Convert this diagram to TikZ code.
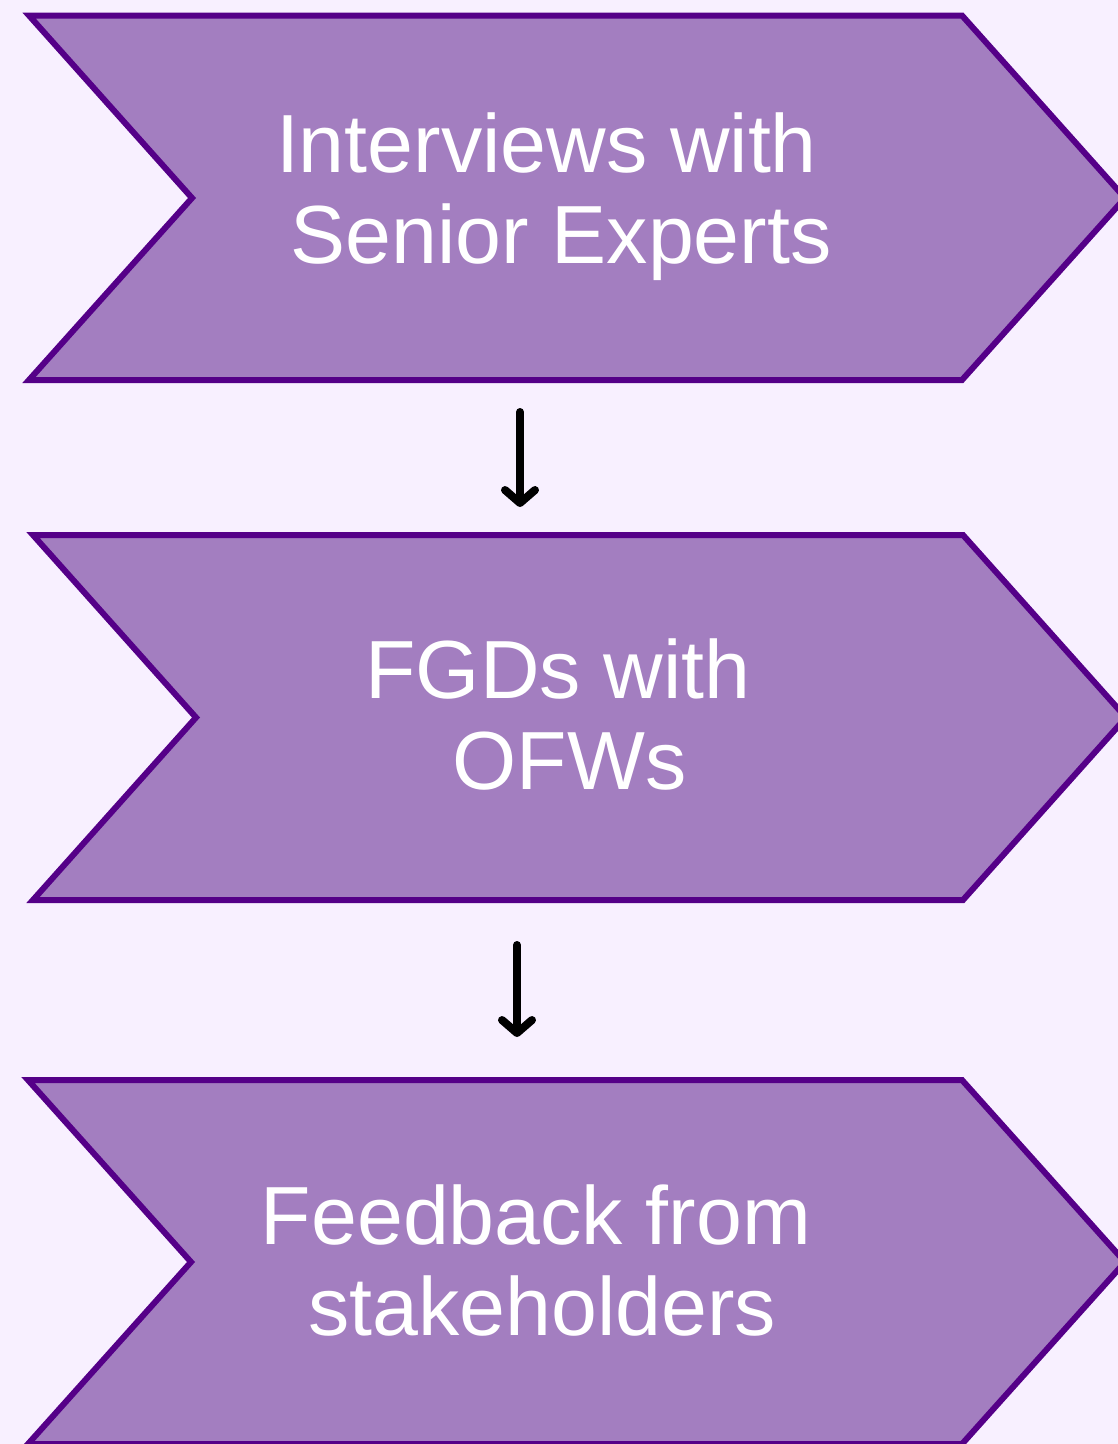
\documentclass[tikz,border=0pt]{standalone}
\usepackage{fontspec}
\setmainfont{Liberation Sans}
\usetikzlibrary{arrows.meta}

\definecolor{bgpale}{RGB}{248,240,255}
\definecolor{chevfill}{RGB}{163,126,192}
\definecolor{chevline}{RGB}{85,0,136}

\tikzset{
  chevron/.style={fill=chevfill, draw=chevline, line width=6pt, line join=miter},
  lbl/.style={text=white, anchor=base, inner sep=0pt,
    font=\fontsize{82.5}{90.6}\selectfont},
  flow/.style={draw=black, line width=8pt, line cap=round,
    -{Straight Barb[length=13pt, width=30pt, round]}},
}

\begin{document}
\begin{tikzpicture}[x=1pt, y=-1pt]
  % page and background
  \useasboundingbox (0,0) rectangle (1118,1444);
  \clip (0,0) rectangle (1118,1444);
  \fill[bgpale] (0,0) rectangle (1118,1444);

  % step 1
  \draw[chevron] (29,15.5) -- (962,15.5) -- (1125,198) -- (962,380)
    -- (29,380) -- (192,198) -- cycle;
  \node[lbl] (t1a) at (546.5,172.7) {Interviews with};
  \node[lbl] (t1b) at (561,263.3) {Senior Experts};

  % step 2
  \draw[chevron] (33,535) -- (963,535) -- (1126,717.5) -- (963,900)
    -- (33,900) -- (196,717.5) -- cycle;
  \node[lbl] (t2a) at (558,698.3) {FGDs with};
  \node[lbl] (t2b) at (569.5,789) {OFWs};

  % step 3
  \draw[chevron] (28,1080) -- (962,1080) -- (1125,1262) -- (962,1444)
    -- (28,1444) -- (191,1262) -- cycle;
  \node[lbl] (t3a) at (536,1244.3) {Feedback from};
  \node[lbl] (t3b) at (542,1335) {stakeholders};

  % arrow end points between the steps
  \coordinate (a1s) at (520,412);
  \coordinate (a1e) at (520,507);
  \coordinate (a2s) at (517,945);
  \coordinate (a2e) at (517,1037);

  \draw[flow] (a1s) -- (a1e);
  \draw[flow] (a2s) -- (a2e);
\end{tikzpicture}
\end{document}
